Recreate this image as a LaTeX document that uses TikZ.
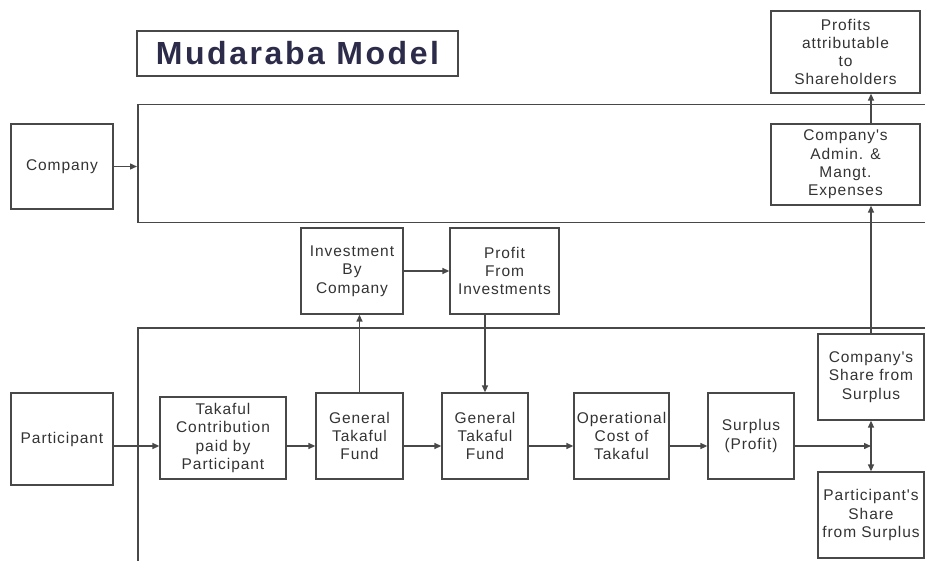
\documentclass[tikz,border=0pt]{standalone}
\usepackage{fontspec}
\setmainfont{Liberation Sans}
\newfontfamily\boxfont[LetterSpace=6]{Liberation Sans}
\newfontfamily\headfont[LetterSpace=8]{Liberation Sans}
\usetikzlibrary{positioning,arrows.meta,calc}
\definecolor{mLine}{HTML}{484848}
\definecolor{mText}{HTML}{333333}
\definecolor{mTitle}{HTML}{2C2C4A}
\tikzset{
  mm/box/.style   ={draw=mLine, line width=1.3pt, inner sep=0pt, align=center,
                    text=mText, font=\boxfont\fontsize{15.5}{18.3}\selectfont},
  mm/region/.style={draw=mLine, line width=1.5pt, inner sep=0pt, anchor=north west},
  mm/title/.style ={draw=mLine, line width=1.3pt, inner sep=0pt, text=mTitle,
                    font=\headfont\bfseries\fontsize{32}{36}\selectfont},
  mm/arr/.style   ={-{Triangle[length=7pt, width=6pt]}, line width=1.4pt, mLine}
}

\begin{document}
\begin{tikzpicture}[x=1pt, y=-1pt]
    \useasboundingbox (0,0) rectangle (925,561);
    \clip (0,0) rectangle (925,561);

    % --- title ---
    \node[mm/title, minimum width=321pt, minimum height=45pt] (title) at (297.5,53.5) {Mudaraba Model};

    % --- company side (upper panel) ---
    \node[mm/region, minimum width=803pt, minimum height=118pt] (upper) at (137,104) {};
    \node[mm/box, minimum width=102pt, minimum height=85pt] (company) at (62,166.5) {Company};
    \node[mm/box, minimum width=149pt, minimum height=82pt] (profits) at (845.5,52)
         {Profits\\attributable\\to\\Shareholders};
    \node[mm/box, minimum width=149pt, minimum height=81pt] (admin) at (845.5,164.5)
         {Company's\\Admin. \&\\Mangt.\\Expenses};

    % --- investment row ---
    \node[mm/box, minimum width=102pt, minimum height=86pt] (invest) at (352,271)
         {Investment\\By\\Company};
    \node[mm/box, minimum width=109pt, minimum height=86pt] (profit) at (504.5,271)
         {Profit\\From\\Investments};

    % --- participant side (lower panel) ---
    \node[mm/region, minimum width=803pt, minimum height=250pt] (lower) at (137,327) {};
    \node[mm/box, minimum width=102pt, minimum height=92pt] (participant) at (62,439) {Participant};
    \node[mm/box, minimum width=126pt, minimum height=82pt] (contrib) at (223,438)
         {Takaful\\Contribution\\paid by\\Participant};
    \node[mm/box, minimum width=87pt, minimum height=86pt] (gtf1) at (359.5,436)
         {General\\Takaful\\Fund};
    \node[mm/box, minimum width=86pt, minimum height=86pt] (gtf2) at (485,436)
         {General\\Takaful\\Fund};
    \node[mm/box, minimum width=95pt, minimum height=86pt] (opcost) at (621.5,436)
         {Operational\\Cost of\\Takaful};
    \node[mm/box, minimum width=86pt, minimum height=86pt] (surplus) at (751,436)
         {Surplus\\(Profit)};
    \node[mm/box, minimum width=106pt, minimum height=86pt] (share) at (871,377)
         {Company's\\Share from\\Surplus};
    \node[mm/box, minimum width=106pt, minimum height=86pt] (pshare) at (871,515)
         {Participant's\\Share\\from Surplus};

    \coordinate (row) at (0,446);
    \coordinate (split) at (share.south |- row);

    % --- arrows: flow ---
    \draw[mm/arr] (company.east) -- (company.east -| upper.west);
    \draw[mm/arr] (participant.east |- row) -- (contrib.west |- row);
    \draw[mm/arr] (contrib.east |- row) -- (gtf1.west |- row);
    \draw[mm/arr] (gtf1.east |- row) -- (gtf2.west |- row);
    \draw[mm/arr] (gtf2.east |- row) -- (opcost.west |- row);
    \draw[mm/arr] (opcost.east |- row) -- (surplus.west |- row);
    \draw[mm/arr] (surplus.east |- row) -- (split);
    \draw[mm/arr] (split) -- (share.south);
    \draw[mm/arr] (split) -- (pshare.north);
    \draw[mm/arr] (gtf1.north) -- (gtf1.north |- invest.south);
    \draw[mm/arr] (invest.east) -- (profit.west);
    \draw[mm/arr] (gtf2.north |- profit.south) -- (gtf2.north);
    \draw[mm/arr] (share.north) -- (share.north |- admin.south);
    \draw[mm/arr] (share.north |- admin.north) -- (share.north |- profits.south);
\end{tikzpicture}
\end{document}
